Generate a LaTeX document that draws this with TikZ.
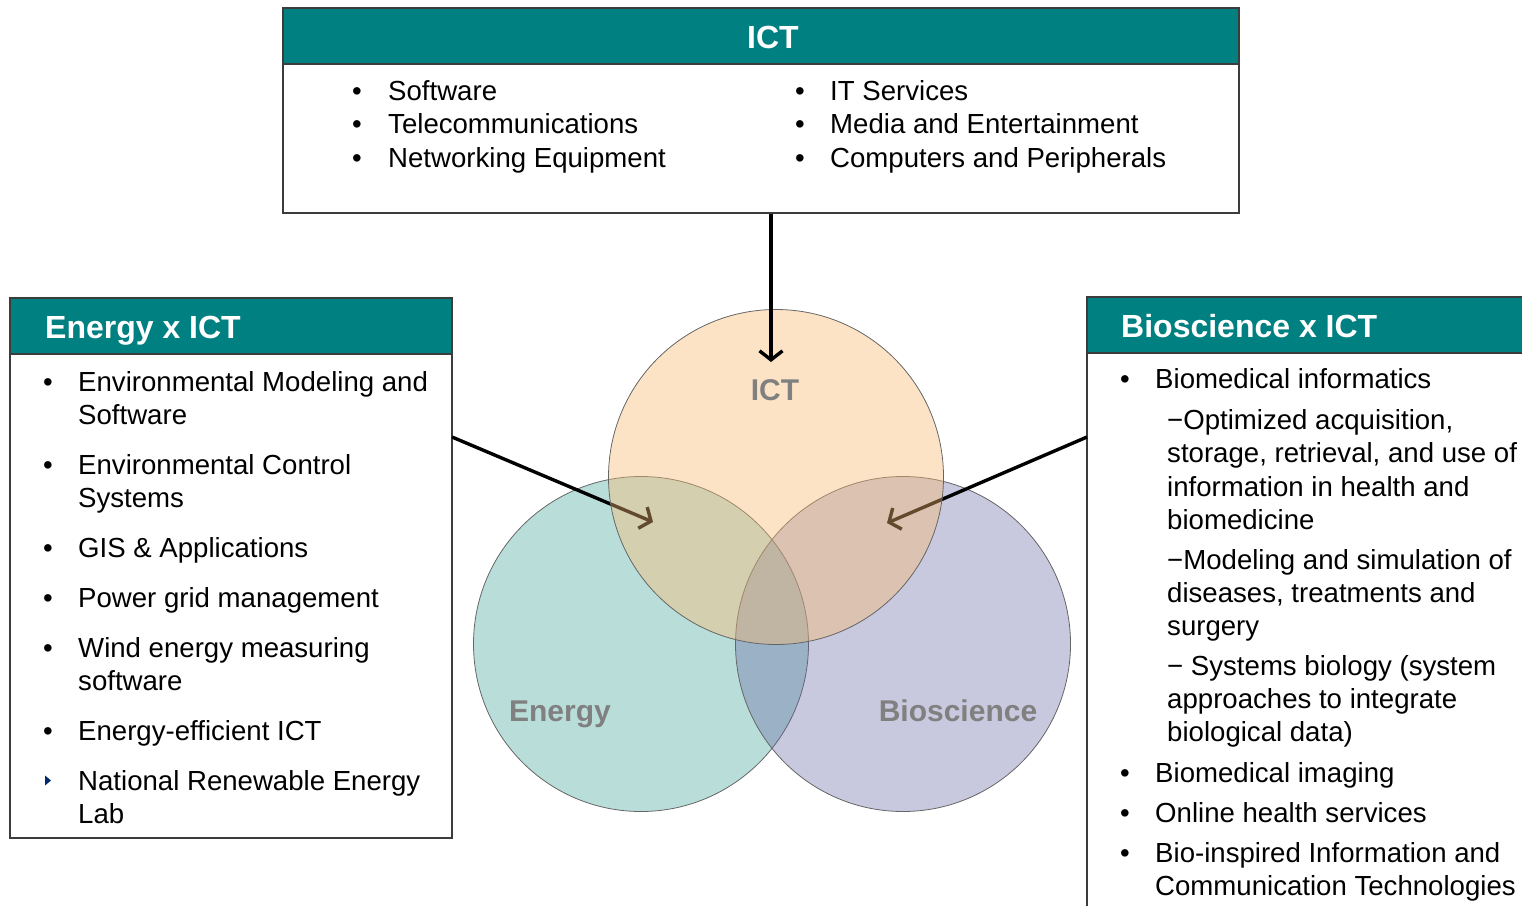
\documentclass[tikz,border=0pt]{standalone}
\usepackage{fontspec}
\setmainfont{Liberation Sans}
\usetikzlibrary{arrows.meta}
\definecolor{hdrteal}{RGB}{0,128,128}
\definecolor{boxgray}{RGB}{60,60,60}
\definecolor{ictfill}{RGB}{250,185,110}
\definecolor{enfill}{RGB}{55,161,149}
\definecolor{biofill}{RGB}{98,98,161}
\definecolor{navytri}{RGB}{0,40,110}
\definecolor{lblgray}{RGB}{128,128,128}
\begin{document}
\begin{tikzpicture}[x=1pt,y=-1pt,
  panel/.style={draw=boxgray, line width=1.3pt, inner sep=0pt, fill=white},
  hdr/.style={draw=boxgray, line width=1.3pt, fill=hdrteal, inner sep=0pt},
  hdrtxt/.style={anchor=base west, inner sep=0pt, text=white, font=\fontsize{32}{38}\selectfont\bfseries},
  txt/.style={anchor=base west, inner sep=0pt, font=\fontsize{27.6}{33}\selectfont},
  bul/.style={anchor=base, inner sep=0pt, font=\fontsize{27.6}{33}\selectfont},
  venn/.style={circle, draw=black!60, line width=0.8pt, fill opacity=0.35, inner sep=0pt, minimum size=335pt},
  vlbl/.style={anchor=base, inner sep=0pt, text=lblgray, font=\fontsize{30}{36}\selectfont\bfseries},
  conn/.style={line width=3.4pt, -{Straight Barb[length=9pt,width=23pt]}}
]
\useasboundingbox (0,0) rectangle (1522,905);

% ---------------- top box
\node[panel, minimum width=956pt, minimum height=205pt] (ictbox) at (761,110.5) {};
\node[hdr, minimum width=956pt, minimum height=56pt] (icthdr) at (761,36) {};
\node[anchor=base, inner sep=0pt, text=white, font=\fontsize{32}{38}\selectfont\bfseries] (icttitle) at (773,48.5) {ICT};
\node[bul] (b1) at (357,100) {•}; \node[txt] (t1) at (388,100) {Software};
\node[bul] (b2) at (357,133) {•}; \node[txt] (t2) at (388,133) {Telecommunications};
\node[bul] (b3) at (357,167) {•}; \node[txt] (t3) at (388,167) {Networking Equipment};
\node[bul] (b4) at (800,100) {•}; \node[txt] (t4) at (830,100) {IT Services};
\node[bul] (b5) at (800,133) {•}; \node[txt] (t5) at (830,133) {Media and Entertainment};
\node[bul] (b6) at (800,167) {•}; \node[txt] (t6) at (830,167) {Computers and Peripherals};

% ---------------- left box
\node[panel, minimum width=442pt, minimum height=540pt] (enbox) at (231,568) {};
\node[hdr, minimum width=442pt, minimum height=56pt] (enhdr) at (231,326) {};
\node[hdrtxt] (entitle) at (45,338.5) {Energy x ICT};
\node[bul] (e1) at (48,391) {•}; \node[txt] (et1) at (78,391) {Environmental Modeling and};
\node[txt] (et1b) at (78,424) {Software};
\node[bul] (e2) at (48,474) {•}; \node[txt] (et2) at (78,474) {Environmental Control};
\node[txt] (et2b) at (78,507) {Systems};
\node[bul] (e3) at (48,557) {•}; \node[txt] (et3) at (78,557) {GIS \& Applications};
\node[bul] (e4) at (48,607) {•}; \node[txt] (et4) at (78,607) {Power grid management};
\node[bul] (e5) at (48,657) {•}; \node[txt] (et5) at (78,657) {Wind energy measuring};
\node[txt] (et5b) at (78,690) {software};
\node[bul] (e6) at (48,740) {•}; \node[txt] (et6) at (78,740) {Energy-efficient ICT};
\fill[navytri] (45,775.5) -- (51,780.5) -- (45,785.5) -- cycle;
\node[txt] (et7) at (78,790) {National Renewable Energy};
\node[txt] (et7b) at (78,823) {Lab};

% ---------------- right box
\node[panel, minimum width=445pt, minimum height=625pt] (biobox) at (1309.5,609.5) {};
\node[hdr, minimum width=445pt, minimum height=56pt] (biohdr) at (1309.5,325) {};
\node[hdrtxt] (biotitle) at (1121,337.5) {Bioscience x ICT};
\node[bul] (r1) at (1125,388) {•}; \node[txt] (rt1) at (1155,388) {Biomedical informatics};
\node[txt] (rs1a) at (1167,429) {−Optimized acquisition,};
\node[txt] (rs1b) at (1167,462) {storage, retrieval, and use of};
\node[txt] (rs1c) at (1167,496) {information in health and};
\node[txt] (rs1d) at (1167,529) {biomedicine};
\node[txt] (rs2a) at (1167,569) {−Modeling and simulation of};
\node[txt] (rs2b) at (1167,602) {diseases, treatments and};
\node[txt] (rs2c) at (1167,635) {surgery};
\node[txt] (rs3a) at (1167,675) {− Systems biology (system};
\node[txt] (rs3b) at (1167,708) {approaches to integrate};
\node[txt] (rs3c) at (1167,741) {biological data)};
\node[bul] (r2) at (1125,782) {•}; \node[txt] (rt2) at (1155,782) {Biomedical imaging};
\node[bul] (r3) at (1125,822) {•}; \node[txt] (rt3) at (1155,822) {Online health services};
\node[bul] (r4) at (1125,862) {•}; \node[txt] (rt4) at (1155,862) {Bio-inspired Information and};
\node[txt] (rt4b) at (1155,895) {Communication Technologies};

% ---------------- venn
\node[venn, fill=enfill] (cen) at (641,644) {};
\node[venn, fill=biofill] (cbio) at (903,644) {};
\coordinate (enfrom) at (452,437);
\coordinate (bifrom) at (1087,437);
\coordinate (entip) at (653,522);
\coordinate (bitip) at (887,523);
\draw[conn] (enfrom) -- (entip);
\draw[conn] (bifrom) -- (bitip);
\node[venn, fill=ictfill, fill opacity=0.4] (cict) at (776,477) {};
\coordinate (icttip) at (771,362);
\draw[conn] (ictbox.south -| icttip) -- (icttip);
\node[vlbl] (lict) at (775,400) {ICT};
\node[vlbl] (len) at (560,721) {Energy};
\node[vlbl] (lbio) at (958,721) {Bioscience};
\end{tikzpicture}
\end{document}
